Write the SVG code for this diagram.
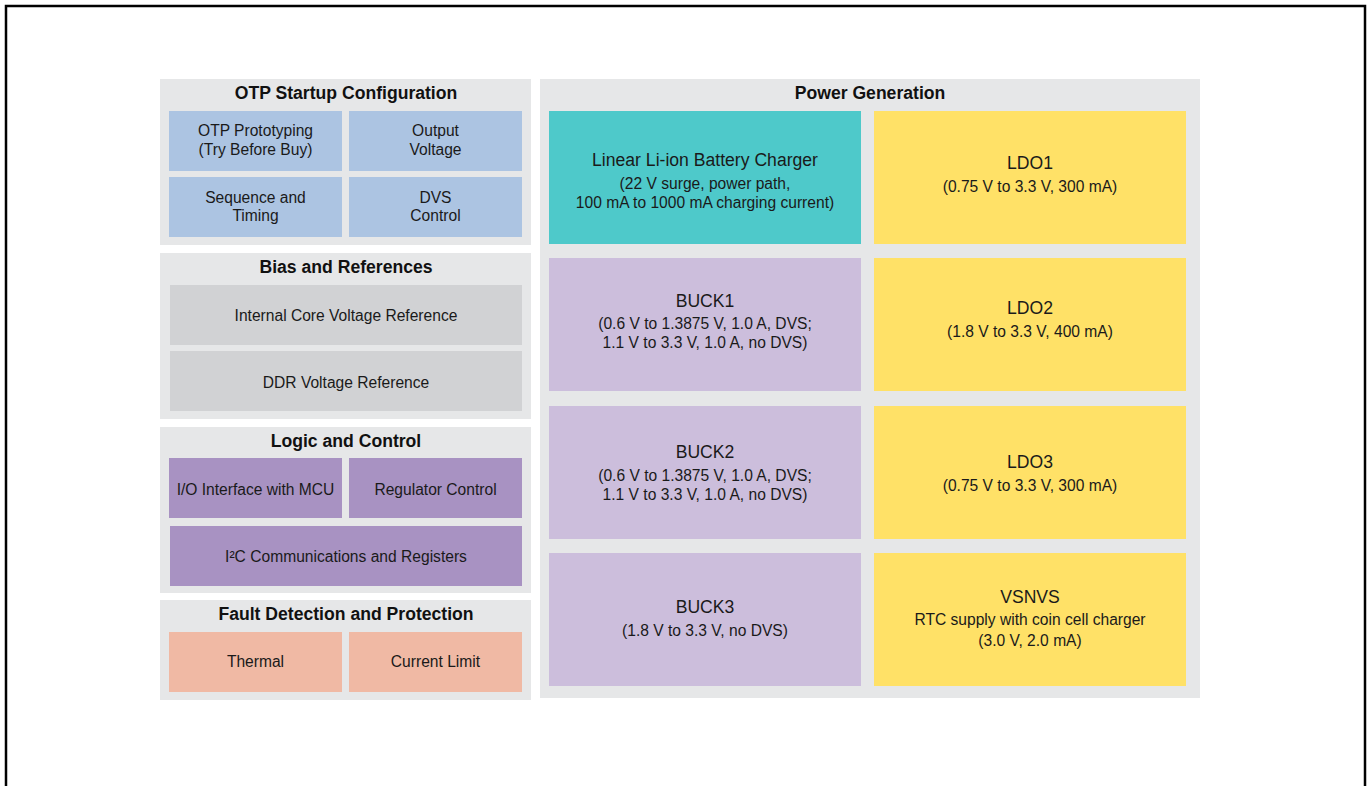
<svg xmlns="http://www.w3.org/2000/svg" width="1367" height="786" viewBox="0 0 1367 786">
<style>
.panel{fill:#E6E7E8}
.blue{fill:#ACC4E2}
.gray{fill:#D1D2D4}
.purple{fill:#A892C2}
.salmon{fill:#F0B9A4}
.teal{fill:#4EC9CA}
.yellow{fill:#FFE167}
.lilac{fill:#CCBEDC}
text{font-family:"Liberation Sans",Arial,sans-serif;fill:#1a1a1a;text-anchor:middle}
.h{font-size:17.6px;font-weight:bold;fill:#111}
.t{font-size:15.6px}
.pt{font-size:17.6px}
.ps{font-size:15.6px}
</style>
<rect x="6" y="6" width="1359" height="800" fill="#fff" stroke="#000" stroke-width="2.5"/>
<g id="connectors"/>
<g id="otp">
<rect class="panel" x="160" y="79" width="371" height="166"/>
<text class="h" x="346" y="99">OTP Startup Configuration</text>
<g id="otp-proto"><rect class="blue" x="169" y="111" width="173" height="60"/><text class="t" x="255.5" y="135.5">OTP Prototyping</text><text class="t" x="255.5" y="154.5">(Try Before Buy)</text></g>
<g id="otp-vout"><rect class="blue" x="349" y="111" width="173" height="60"/><text class="t" x="435.5" y="135.5">Output</text><text class="t" x="435.5" y="154.5">Voltage</text></g>
<g id="otp-seq"><rect class="blue" x="169" y="177" width="173" height="60"/><text class="t" x="255.5" y="202.5">Sequence and</text><text class="t" x="255.5" y="220.5">Timing</text></g>
<g id="otp-dvs"><rect class="blue" x="349" y="177" width="173" height="60"/><text class="t" x="435.5" y="202.5">DVS</text><text class="t" x="435.5" y="220.5">Control</text></g>
</g>
<g id="bias">
<rect class="panel" x="160" y="253" width="371" height="166"/>
<text class="h" x="346" y="273">Bias and References</text>
<g id="bias-core"><rect class="gray" x="170" y="285" width="352" height="60"/><text class="t" x="346" y="320.5">Internal Core Voltage Reference</text></g>
<g id="bias-ddr"><rect class="gray" x="170" y="351" width="352" height="60"/><text class="t" x="346" y="387.5">DDR Voltage Reference</text></g>
</g>
<g id="logic">
<rect class="panel" x="160" y="427" width="371" height="166"/>
<text class="h" x="346" y="447">Logic and Control</text>
<g id="logic-io"><rect class="purple" x="169" y="458" width="173" height="60"/><text class="t" x="255.5" y="494.5">I/O Interface with MCU</text></g>
<g id="logic-reg"><rect class="purple" x="349" y="458" width="173" height="60"/><text class="t" x="435.5" y="494.5">Regulator Control</text></g>
<g id="logic-i2c"><rect class="purple" x="170" y="526" width="352" height="60"/><text class="t" x="346" y="561.5">I²C Communications and Registers</text></g>
</g>
<g id="fault">
<rect class="panel" x="160" y="600" width="371" height="100"/>
<text class="h" x="346" y="620">Fault Detection and Protection</text>
<g id="fault-thermal"><rect class="salmon" x="169" y="632" width="173" height="60"/><text class="t" x="255.5" y="666.5">Thermal</text></g>
<g id="fault-ilim"><rect class="salmon" x="349" y="632" width="173" height="60"/><text class="t" x="435.5" y="666.5">Current Limit</text></g>
</g>
<g id="power">
<rect class="panel" x="540" y="79" width="660" height="619"/>
<text class="h" x="870" y="99">Power Generation</text>
<g id="charger"><rect class="teal" x="549" y="111" width="312" height="133"/><text class="pt" x="705" y="166">Linear Li-ion Battery Charger</text><text class="ps" x="705" y="188.5">(22 V surge, power path,</text><text class="ps" x="705" y="207.5">100 mA to 1000 mA charging current)</text></g>
<g id="ldo1"><rect class="yellow" x="874" y="111" width="312" height="133"/><text class="pt" x="1030" y="169">LDO1</text><text class="ps" x="1030" y="191.5">(0.75 V to 3.3 V, 300 mA)</text></g>
<g id="buck1"><rect class="lilac" x="549" y="258" width="312" height="133"/><text class="pt" x="705" y="307">BUCK1</text><text class="ps" x="705" y="328.5">(0.6 V to 1.3875 V, 1.0 A, DVS;</text><text class="ps" x="705" y="347.5">1.1 V to 3.3 V, 1.0 A, no DVS)</text></g>
<g id="ldo2"><rect class="yellow" x="874" y="258" width="312" height="133"/><text class="pt" x="1030" y="314">LDO2</text><text class="ps" x="1030" y="336.5">(1.8 V to 3.3 V, 400 mA)</text></g>
<g id="buck2"><rect class="lilac" x="549" y="406" width="312" height="133"/><text class="pt" x="705" y="458">BUCK2</text><text class="ps" x="705" y="480.5">(0.6 V to 1.3875 V, 1.0 A, DVS;</text><text class="ps" x="705" y="499.5">1.1 V to 3.3 V, 1.0 A, no DVS)</text></g>
<g id="ldo3"><rect class="yellow" x="874" y="406" width="312" height="133"/><text class="pt" x="1030" y="468">LDO3</text><text class="ps" x="1030" y="490.5">(0.75 V to 3.3 V, 300 mA)</text></g>
<g id="buck3"><rect class="lilac" x="549" y="553" width="312" height="133"/><text class="pt" x="705" y="613">BUCK3</text><text class="ps" x="705" y="635.5">(1.8 V to 3.3 V, no DVS)</text></g>
<g id="vsnvs"><rect class="yellow" x="874" y="553" width="312" height="133"/><text class="pt" x="1030" y="603">VSNVS</text><text class="ps" x="1030" y="624.5">RTC supply with coin cell charger</text><text class="ps" x="1030" y="645.5">(3.0 V, 2.0 mA)</text></g>
</g>
</svg>
